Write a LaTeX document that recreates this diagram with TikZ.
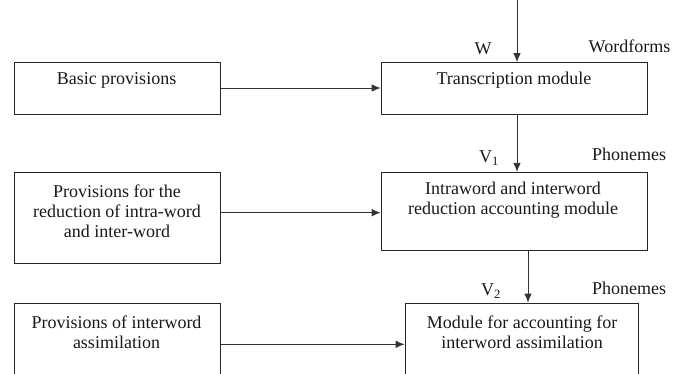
\documentclass[tikz,border=0pt]{standalone}
\usepackage{fontspec}
\setmainfont{Liberation Serif}
\usetikzlibrary{arrows.meta}
\begin{document}
\begin{tikzpicture}[x=1pt,y=-1pt,
  box/.style={draw=black!85, line width=0.8pt, inner sep=0pt},
  txt/.style={inner sep=0pt, align=center, text=black!90, font=\fontsize{18}{19.8}\selectfont},
  lbl/.style={inner sep=0pt, text=black!90, font=\fontsize{18}{20}\selectfont},
  flow/.style={draw=black!80, -{Latex[length=9pt,width=7.5pt]}, line width=0.8pt}]
\useasboundingbox (0,0) rectangle (684,373);
\begin{scope}
\clip (0,0) rectangle (684,373);
% left column: provisions
\node[box, minimum width=206pt, minimum height=52pt] (b1) at (117.5,88.5) {};
\node[box, minimum width=206pt, minimum height=91pt] (b2) at (117.5,217.5) {};
\node[box, minimum width=206pt, minimum height=97pt] (b3) at (117.5,351.5) {};
% right column: modules
\node[box, minimum width=266pt, minimum height=52pt] (T) at (514,88.5) {};
\node[box, minimum width=266pt, minimum height=78.5pt] (I) at (514,211.5) {};
\node[box, minimum width=233pt, minimum height=97pt] (M) at (521.5,351.5) {};
\end{scope}
% box texts
\node[txt] (b1t) at (116.5,80) {Basic provisions};
\node[txt] (b2t) at (117,211) {Provisions for the\\reduction of intra-word\\and inter-word};
\node[txt] (b3t) at (116.5,332) {Provisions of interword\\assimilation};
\node[txt] (Tt) at (514,80) {Transcription module};
\node[txt] (It) at (513,200.5) {Intraword and interword\\reduction accounting module};
\node[txt] (Mt) at (522,332) {Module for accounting for\\interword assimilation};
% horizontal inputs
\draw[flow] ([yshift=0.5pt]b1.east) coordinate (a1) -- (a1 -| T.west);
\draw[flow] ([yshift=4.8pt]b2.east) coordinate (a2) -- (a2 -| I.west);
\draw[flow] ([yshift=7.2pt]b3.east) coordinate (a3) -- (a3 -| M.west);
% vertical flow
\coordinate (in) at (517,0);
\draw[flow] (in) -- (in |- T.north);
\draw[flow] (in |- T.south) -- (in |- I.north);
\draw[flow] ([xshift=14pt]I.south) coordinate (o2) -- (o2 |- M.north);
% data labels
\node[lbl] (w) at (483,49) {W};
\node[lbl] (wf) at (629.5,46) {Wordforms};
\node[lbl] (v1) at (489,158) {V\textsubscript{1}};
\node[lbl] (ph1) at (629,154) {Phonemes};
\node[lbl] (v2) at (491,291) {V\textsubscript{2}};
\node[lbl] (ph2) at (629,288) {Phonemes};
\end{tikzpicture}
\end{document}
